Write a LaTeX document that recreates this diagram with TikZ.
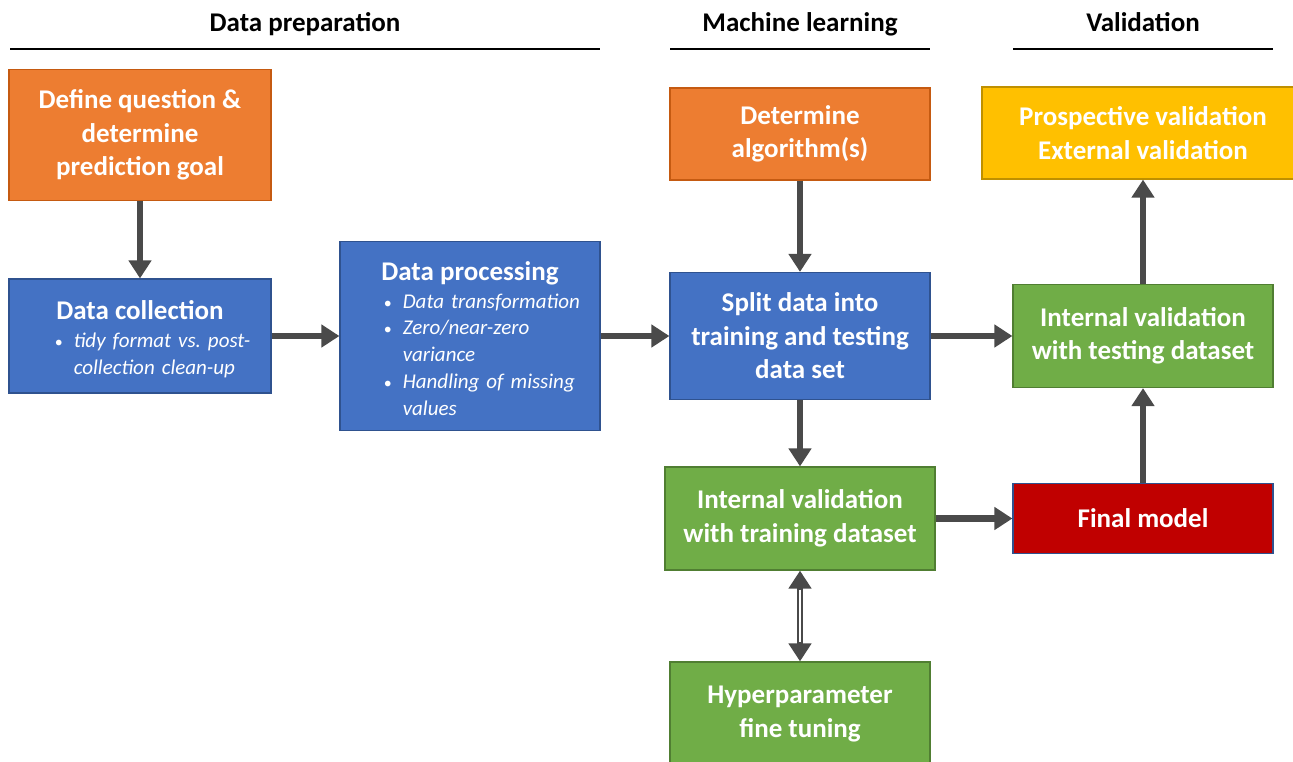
\documentclass[tikz,border=0pt]{standalone}
\usepackage{fontspec}
\setmainfont{Carlito}
\usetikzlibrary{arrows.meta,positioning}

\definecolor{qorange}{HTML}{ED7D31}
\definecolor{qorangeline}{HTML}{C55A11}
\definecolor{qblue}{HTML}{4472C4}
\definecolor{qblueline}{HTML}{2F528F}
\definecolor{qgreen}{HTML}{70AD47}
\definecolor{qgreenline}{HTML}{507E32}
\definecolor{qred}{HTML}{C00000}
\definecolor{qyellow}{HTML}{FFC000}
\definecolor{qyellowline}{HTML}{BF9000}
\definecolor{arrgray}{HTML}{4A4A4A}

\newcommand{\boxfont}{\fontsize{13.5}{16.75}\selectfont\bfseries}
\newcommand{\listfont}{\fontsize{10.5}{13.4}\selectfont}
% one bullet item, later lines hang under the text
\newcommand{\bul}[1]{\par\noindent\hangindent=9.5pt\hangafter=1
  \makebox[9.5pt][l]{\fontsize{8}{8}\selectfont\textbullet}\textit{#1}\par}

\begin{document}
\begin{tikzpicture}[x=0.5pt, y=-0.5pt,
  >={Triangle[length=9pt, width=11pt]},
  box/.style={draw, line width=0.6pt, minimum width=130pt, inner sep=2pt,
    align=center, text=white, font=\boxfont},
  orangebox/.style={box, fill=qorange, draw=qorangeline},
  bluebox/.style={box, fill=qblue, draw=qblueline},
  greenbox/.style={box, fill=qgreen, draw=qgreenline},
  redbox/.style={box, fill=qred, draw=qblueline},
  yellowbox/.style={box, fill=qyellow, draw=qyellowline},
  title/.style={text=white, font=\boxfont, inner sep=0pt, anchor=base},
  list/.style={text=white, font=\listfont, inner sep=0pt, text width=120pt,
    align=left, anchor=north west},
  head/.style={font=\boxfont, inner sep=0pt, anchor=base},
  rule/.style={line width=0.75pt},
  arr/.style={->, draw=arrgray, line width=3.25pt}
]
  \useasboundingbox (0,0) rectangle (1293,761);

  % Column headings
  \node[head] (hprep) at (305,31) {Data preparation};
  \node[head] (hml)   at (800,31) {Machine learning};
  \node[head] (hval)  at (1143,31) {Validation};
  \draw[rule] (10,49) -- (600,49);
  \draw[rule] (670,49) -- (930,49);
  \draw[rule] (1013,49) -- (1273,49);

  % Data preparation
  \node[orangebox, minimum width=131pt, minimum height=65.5pt] (goal) at (140,135)
    {Define question \&\\determine\\prediction goal};
  \node[bluebox, minimum width=131pt, minimum height=57pt] (collect) at (140,336) {};
  \node[title] (collect-t) at ([yshift=-20.5pt]collect.north) {Data collection};
  \node[list] (collect-l) at ([xshift=23pt, yshift=-21pt]collect.north west)
    {\bul{tidy format vs.\ post-\newline collection clean-up}};

  \node[bluebox, minimum height=94.5pt] (process) at (470,336) {};
  \node[title] (process-t) at ([yshift=-20pt]process.north) {Data processing};
  \node[list] (process-l) at ([xshift=22pt, yshift=-20pt]process.north west)
    {\bul{Data transformation}
     \bul{Zero/near-zero\newline variance}
     \bul{Handling of missing\newline values}};

  % Machine learning
  \node[orangebox, minimum height=46pt] (algo) at (800,134) {Determine\\algorithm(s)};
  \node[bluebox, minimum height=63.5pt] (split) at (800,336)
    {Split data into\\training and testing\\data set};
  \node[greenbox, minimum width=135pt, minimum height=51.5pt] (trainval) at (800,518.5)
    {Internal validation\\with training dataset};
  \node[greenbox, minimum height=52pt] (hyper) at (800,714) {Hyperparameter\\fine tuning};

  % Validation
  \node[yellowbox, minimum width=161pt, minimum height=46pt] (ext) at (1143,133)
    {Prospective validation\\External validation};
  \node[greenbox, minimum height=51.5pt] (testval) at (1143,336)
    {Internal validation\\with testing dataset};
  \node[redbox, minimum height=35pt] (final) at (1143,518.5) {Final model};

  % Draw edges
  \draw[arr] (goal) -- (collect);
  \draw[arr] (collect) -- (process);
  \draw[arr] (process) -- (split);
  \draw[arr] (algo) -- (split);
  \draw[arr] (split) -- (trainval);
  \draw[arr] (split) -- (testval);
  \draw[arr] (trainval) -- (final);
  \draw[arr] (final) -- (testval);
  \draw[arr] (testval) -- (ext);

  \draw[arr, <->, line width=3pt] (trainval) -- (hyper);
  \draw[white, line width=1pt, shorten <=9.5pt, shorten >=9.5pt] (trainval) -- (hyper);

\end{tikzpicture}
\end{document}
